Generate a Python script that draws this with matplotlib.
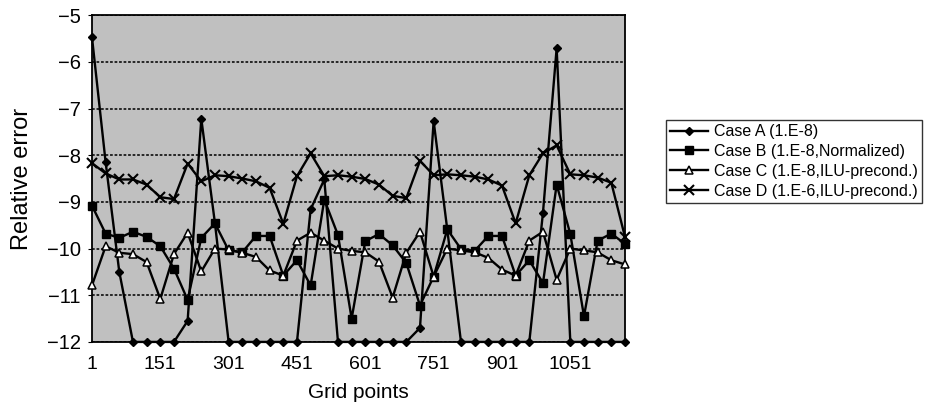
import numpy as np
import matplotlib
matplotlib.use("Agg")
from matplotlib import pyplot as plt

# grid points 1, 31, ..., 1171
grid_points = list(range(1, 1172, 30))
tick_values = [1, 151, 301, 451, 601, 751, 901, 1051]

case_a = [-5.47, -8.15, -10.5, -12, -12, -12, -12, -11.55, -7.22, -9.46,
          -12, -12, -12, -12, -12, -12, -9.16, -8.52, -12, -12,
          -12, -12, -12, -12, -11.7, -7.27, -9.6, -12, -12, -12,
          -12, -12, -12, -9.23, -5.71, -12, -12, -12, -12, -12]
case_b = [-9.08, -9.68, -9.77, -9.64, -9.75, -9.95, -10.43, -11.1, -9.77, -9.46,
          -10.04, -10.08, -9.73, -9.73, -10.58, -10.25, -10.79, -8.95, -9.71, -11.5,
          -9.84, -9.69, -9.93, -10.31, -11.22, -10.6, -9.59, -10.01, -10.05, -9.73,
          -9.73, -10.58, -10.25, -10.74, -8.63, -9.69, -11.45, -9.83, -9.68, -9.9]
case_c = [-10.79, -9.95, -10.09, -10.12, -10.29, -11.08, -10.12, -9.66, -10.49, -10.0,
          -10.02, -10.09, -10.18, -10.47, -10.58, -9.83, -9.66, -9.83, -10.0, -10.05,
          -10.08, -10.28, -11.05, -10.09, -9.64, -10.6, -10.0, -10.04, -10.08, -10.2,
          -10.45, -10.58, -9.83, -9.64, -10.67, -10.0, -10.04, -10.08, -10.25, -10.34]
case_d = [-8.17, -8.39, -8.52, -8.52, -8.63, -8.9, -8.94, -8.18, -8.56, -8.43,
          -8.45, -8.5, -8.56, -8.7, -9.47, -8.45, -7.96, -8.45, -8.43, -8.46,
          -8.51, -8.63, -8.87, -8.92, -8.12, -8.43, -8.41, -8.43, -8.46, -8.52,
          -8.65, -9.46, -8.43, -7.96, -7.79, -8.41, -8.43, -8.48, -8.59, -9.75]

labels = ["Case A (1.E-8)", "Case B (1.E-8,Normalized)",
          "Case C (1.E-8,ILU-precond.)", "Case D (1.E-6,ILU-precond.)"]

plt.rcParams["font.family"] = ["Liberation Sans", "DejaVu Sans"]
narrow = ["Liberation Sans Narrow", "Liberation Sans", "DejaVu Sans"]

fig = plt.figure(figsize=(9.27, 4.09), dpi=100)
ax = fig.add_axes([0.0992, 0.164, 0.575, 0.799])
ax.set_facecolor("#c0c0c0")

line_kw = dict(color="black", lw=1.7, zorder=3, clip_on=False)
ax.plot(grid_points, case_a, marker="D", ms=4.5, mfc="black", mec="black",
        label=labels[0], **line_kw)
ax.plot(grid_points, case_b, marker="s", ms=6, mfc="black", mec="black",
        label=labels[1], **line_kw)
ax.plot(grid_points, case_c, marker="^", ms=6, mfc="white", mec="black",
        mew=1.1, label=labels[2], **line_kw)
ax.plot(grid_points, case_d, marker="x", ms=6.5, mew=1.5, label=labels[3],
        **line_kw)

ax.set_xlim(1, 1171)
ax.set_ylim(-12, -5)
ax.set_yticks(range(-12, -4))
ax.set_xticks(tick_values)
ax.set_xticklabels([str(t) for t in tick_values], family=narrow, fontsize=14)
ax.set_yticklabels([str(v).replace("-", "\u2212") for v in range(-12, -4)],
                   family=narrow, fontsize=14.5)
ax.tick_params(axis="x", length=0, pad=10)
ax.tick_params(axis="y", length=3, pad=5)
ax.yaxis.grid(True, color="#1a1a1a", linestyle=(0, (1.5, 1)), lw=1.3)
ax.set_axisbelow(True)
for sp in ax.spines.values():
    sp.set_color("black")
    sp.set_linewidth(1.3)

ax.set_xlabel("Grid points", fontsize=15, labelpad=7)
ax.set_ylabel("Relative error", fontsize=17, labelpad=10)

leg = fig.legend(loc="upper left", bbox_to_anchor=(0.718, 0.706),
                 fontsize=11.5, frameon=True, fancybox=False, handlelength=2.4,
                 borderpad=0.25, labelspacing=0.3, handletextpad=0.4,
                 borderaxespad=0)
leg.get_frame().set_edgecolor("black")
leg.get_frame().set_linewidth(1.0)

fig.savefig("out.png", dpi=100)
